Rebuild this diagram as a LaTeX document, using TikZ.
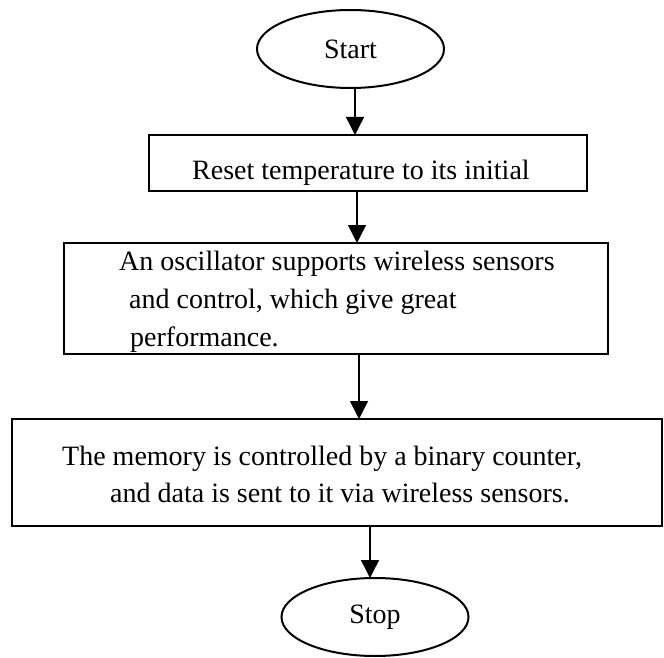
\documentclass[tikz,border=0pt]{standalone}
\usepackage{fontspec}
\setmainfont{Liberation Serif}
\usetikzlibrary{arrows.meta,shapes.geometric}
\begin{document}
\begin{tikzpicture}[x=1pt,y=-1pt,
  every node/.style={font=\fontsize{28}{34}\selectfont},
  term/.style={draw,ellipse,line width=2pt,inner sep=0pt,outer sep=0pt,minimum width=187pt,minimum height=78pt},
  procbox/.style={draw,rectangle,line width=2.5pt,inner sep=0pt,outer sep=0pt},
  txt/.style={anchor=base west,inner sep=0pt},
  arr/.style={line width=1.4pt,-{Triangle[length=18pt,width=18pt]}}]
\useasboundingbox (0,0) rectangle (664,658);
% terminals
\node[term] (start) at (350.5,49) {Start};
\node[term] (stop) at (375,617) {Stop};
% process boxes
\node[procbox,minimum width=438pt,minimum height=56pt] (b1) at (368,163) {};
\node[procbox,minimum width=544pt,minimum height=111pt] (b2) at (336,298.5) {};
\node[procbox,minimum width=650pt,minimum height=107pt] (b3) at (337,472.5) {};
% texts
\node[txt] (t1) at (192,179) {Reset temperature to its initial};
\node[txt] (t2a) at (119,270) {An oscillator supports wireless sensors};
\node[txt] (t2b) at (129,308) {and control, which give great};
\node[txt] (t2c) at (130,346) {performance.};
\node[txt] (t3a) at (62,465) {The memory is controlled by a binary counter,};
\node[txt] (t3b) at (110,502) {and data is sent to it via wireless sensors.};
% connector columns
\coordinate (c1) at (355,0);
\coordinate (c2) at (357,0);
\coordinate (c3) at (359,0);
\coordinate (c4) at (370,0);
\draw[arr] (start.south -| c1) -- (b1.north -| c1);
\draw[arr] (b1.south -| c2) -- (b2.north -| c2);
\draw[arr] (b2.south -| c3) -- (b3.north -| c3);
\draw[arr] (b3.south -| c4) -- (stop.north -| c4);
\end{tikzpicture}
\end{document}
